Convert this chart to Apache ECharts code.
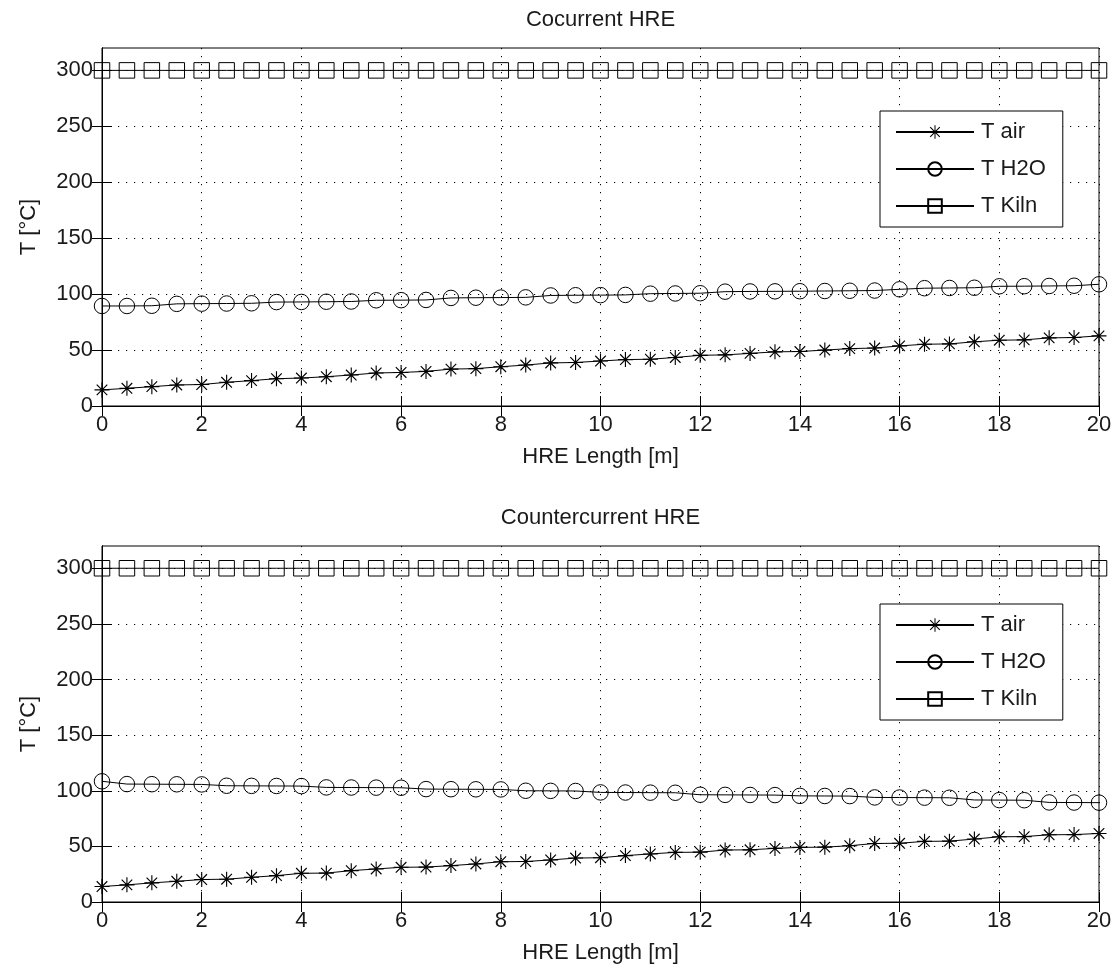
<!DOCTYPE html>
<html>
<head>
<meta charset="utf-8">
<script src="https://cdn.jsdelivr.net/npm/echarts@6/dist/echarts.min.js"></script>
<style>
html,body{margin:0;padding:0;background:#fff;}
#chart{width:1116px;height:976px;}
</style>
</head>
<body>
<div id="chart"></div>
<script>
// ---- data ----
const lengthM = [0,0.5,1,1.5,2,2.5,3,3.5,4,4.5,5,5.5,6,6.5,7,7.5,8,8.5,9,9.5,10,10.5,11,11.5,12,12.5,13,13.5,14,14.5,15,15.5,16,16.5,17,17.5,18,18.5,19,19.5,20];

const coAir  = [14.4,15.8,17.3,18.8,19.2,21.2,22.7,24.4,25.0,26.2,27.7,29.5,30.0,30.9,33.0,33.4,35.1,36.6,38.5,38.9,40.2,41.5,41.8,43.4,45.3,45.7,47.0,48.4,48.7,50.0,51.3,51.8,53.7,55.2,55.5,57.4,58.8,59.1,60.9,61.2,62.7];
const coH2O  = [89.4,89.4,89.6,91.3,91.5,91.6,91.8,92.9,93.0,93.2,93.4,94.5,94.6,94.8,96.6,96.8,96.9,97.1,98.8,99.0,99.1,99.3,100.4,100.6,100.8,102.2,102.4,102.5,102.6,102.8,103.0,103.2,104.3,105.3,105.5,105.7,107.0,107.1,107.3,107.5,108.8];
const coKiln = [300,300,300,300,300,300,300,300,300,300,300,300,300,300,300,300,300,300,300,300,300,300,300,300,300,300,300,300,300,300,300,300,300,300,300,300,300,300,300,300,300];

const ctAir  = [13.9,15.4,17.2,18.6,20.2,20.5,22.2,23.7,25.8,26.0,28.2,29.7,31.2,31.4,32.7,34.2,36.2,36.4,37.8,39.5,39.8,41.7,43.2,44.6,44.8,46.7,46.9,48.2,49.1,49.3,50.6,52.6,52.8,54.5,54.7,56.6,58.6,58.8,60.4,60.6,61.6];
const ctH2O  = [108.5,106.0,105.9,105.8,105.7,104.5,104.4,104.3,104.2,103.0,102.9,102.8,102.7,101.5,101.4,101.3,101.2,100.0,99.9,99.8,98.5,98.4,98.3,98.2,96.4,96.3,96.2,96.1,95.4,95.3,95.2,94.0,93.9,93.8,93.7,91.7,91.6,91.5,89.5,89.4,89.3];
const ctKiln = [300,300,300,300,300,300,300,300,300,300,300,300,300,300,300,300,300,300,300,300,300,300,300,300,300,300,300,300,300,300,300,300,300,300,300,300,300,300,300,300,300];

const titles = ['Cocurrent HRE', 'Countercurrent HRE'];
const seriesNames = ['T air', 'T H2O', 'T Kiln'];
const xLabel = 'HRE Length [m]';
const yLabel = 'T [°C]';
const xTicks = {min: 0, max: 20, interval: 2};
const yTicks = {min: 0, max: 320, interval: 50};
const yTickValues = [0, 50, 100, 150, 200, 250, 300];

// ---- styling ----
const FONT = "'Liberation Sans', Arial, Helvetica, sans-serif";
const TXT = '#1a1a1a';
const FS = 22;
const STAR = 'path://M9.25,0H10.75V20H9.25Z M0,9.25H20V10.75H0Z M2.4,3.5L3.5,2.4L17.6,16.5L16.5,17.6Z M16.5,2.4L17.6,3.5L3.5,17.6L2.4,16.5Z';
const GRIDLINE = {show: true, lineStyle: {color: '#000', type: [1.2, 6.8], width: 1}};

const pair = (ys) => lengthM.map((x, i) => [x, ys[i]]);

const grids = [
  {left: 102, width: 997, top: 48, height: 358},
  {left: 102, width: 997, top: 546, height: 356}
];

const xAxes = [], yAxes = [], series = [], legends = [];
const dataSets = [[coAir, coH2O, coKiln], [ctAir, ctH2O, ctKiln]];

grids.forEach((g, gi) => {
  xAxes.push({
    type: 'value', gridIndex: gi, position: 'bottom',
    min: xTicks.min, max: xTicks.max, interval: xTicks.interval,
    name: xLabel, nameLocation: 'middle', nameGap: 40,
    nameTextStyle: {fontFamily: FONT, fontSize: FS, color: TXT},
    axisLine: {show: true, lineStyle: {color: '#000', width: 1}},
    axisTick: {show: true, inside: true, length: 10, lineStyle: {color: '#000'}},
    axisLabel: {fontFamily: FONT, fontSize: FS, color: TXT, margin: 8},
    splitLine: GRIDLINE
  });
  xAxes.push({
    type: 'value', gridIndex: gi, position: 'top',
    min: xTicks.min, max: xTicks.max, interval: xTicks.interval,
    name: titles[gi], nameLocation: 'middle', nameGap: 17,
    nameTextStyle: {fontFamily: FONT, fontSize: FS, color: TXT},
    axisLine: {show: true, lineStyle: {color: '#000', width: 1}},
    axisTick: {show: true, inside: true, length: 10, lineStyle: {color: '#000'}},
    axisLabel: {show: false},
    splitLine: {show: false}
  });
  yAxes.push({
    type: 'value', gridIndex: gi, position: 'left',
    min: yTicks.min, max: yTicks.max, interval: yTicks.interval,
    name: yLabel, nameLocation: 'middle', nameGap: 62,
    nameTextStyle: {fontFamily: FONT, fontSize: FS, color: TXT},
    axisLine: {show: true, lineStyle: {color: '#000', width: 1}},
    axisTick: {show: true, inside: true, length: 10, lineStyle: {color: '#000'}, customValues: yTickValues},
    axisLabel: {fontFamily: FONT, fontSize: FS, color: TXT, margin: 9, customValues: yTickValues},
    splitLine: GRIDLINE
  });
  yAxes.push({
    type: 'value', gridIndex: gi, position: 'right',
    min: yTicks.min, max: yTicks.max, interval: yTicks.interval,
    axisLine: {show: true, lineStyle: {color: '#000', width: 1}},
    axisTick: {show: true, inside: true, length: 10, lineStyle: {color: '#000'}, customValues: yTickValues},
    axisLabel: {show: false},
    splitLine: {show: false}
  });

  const [air, h2o, kiln] = dataSets[gi];
  const common = {
    type: 'line', xAxisIndex: gi * 2, yAxisIndex: gi * 2, clip: false,
    showAllSymbol: true, animation: false,
    lineStyle: {color: '#000', width: 1}
  };
  series.push(Object.assign({}, common, {
    name: seriesNames[0], data: pair(air), symbol: STAR, symbolSize: 15,
    itemStyle: {color: '#000', borderWidth: 0}
  }));
  series.push(Object.assign({}, common, {
    name: seriesNames[1], data: pair(h2o), symbol: 'circle', symbolSize: 15.5,
    itemStyle: {color: 'rgba(0,0,0,0)', borderColor: '#000', borderWidth: 1}
  }));
  series.push(Object.assign({}, common, {
    name: seriesNames[2], data: pair(kiln), symbol: 'rect', symbolSize: 15.5,
    itemStyle: {color: 'rgba(0,0,0,0)', borderColor: '#000', borderWidth: 1}
  }));

  legends.push({
    orient: 'vertical', left: 880, top: gi === 0 ? 111 : 604,
    data: seriesNames,
    itemWidth: 78, itemHeight: 17, itemGap: 15,
    padding: [10, 17, 10, 15],
    backgroundColor: '#fff', borderColor: '#000', borderWidth: 1,
    selectedMode: false,
    textStyle: {fontFamily: FONT, fontSize: FS, color: TXT, lineHeight: 22, padding: [0, 0, 0, 2]}
  });
});

const chart = echarts.init(document.getElementById('chart'), null, {renderer: 'canvas'});
chart.setOption({
  backgroundColor: '#fff',
  animation: false,
  grid: grids.map(g => Object.assign({show: true, borderColor: '#000', borderWidth: 1, backgroundColor: '#fff'}, g)),
  xAxis: xAxes,
  yAxis: yAxes,
  legend: legends,
  series: series
});
</script>
</body>
</html>
